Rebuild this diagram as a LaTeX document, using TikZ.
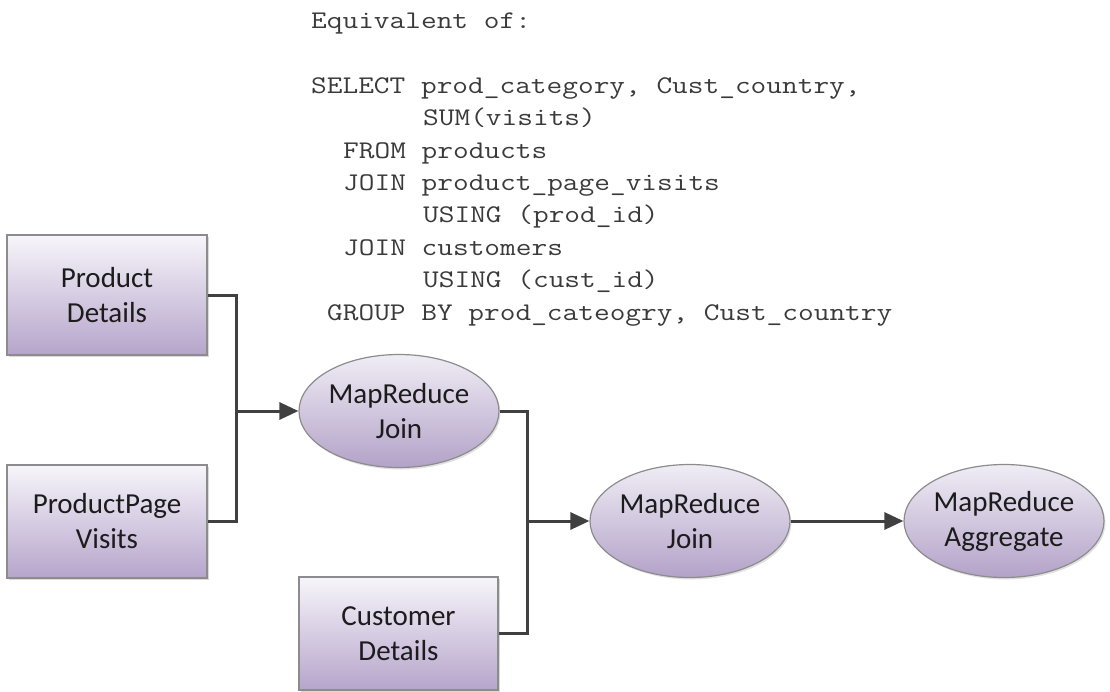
\documentclass[tikz,border=0pt]{standalone}
\usepackage{fontspec}
\setmainfont{Carlito}
\setmonofont{Latin Modern Mono}[FakeStretch=1.2]
\usetikzlibrary{arrows.meta,shapes.geometric,shadows}
\definecolor{boxtop}{HTML}{F7F5FA}
\definecolor{boxbot}{HTML}{B6A5CB}
\definecolor{elltop}{HTML}{F0EDF5}
\definecolor{ellbot}{HTML}{B3A2C8}
\definecolor{edgegray}{HTML}{8C8C8C}
\definecolor{linegray}{HTML}{404040}
\definecolor{sqlgray}{HTML}{3A3A3A}
\definecolor{labelcol}{HTML}{1C1C1C}
\tikzset{
  labelfont/.style={font=\fontsize{29}{35}\selectfont, text=labelcol, align=center},
  datbox/.style={labelfont, rectangle, draw=edgegray, line width=1.2pt,
    top color=boxtop, bottom color=boxbot, inner sep=0pt,
    drop shadow={shadow xshift=1.5pt, shadow yshift=-2pt, opacity=0.25, fill=black!60}},
  procell/.style={labelfont, ellipse, draw=edgegray, line width=1.2pt,
    top color=elltop, bottom color=ellbot, inner sep=0pt,
    minimum width=200pt, minimum height=113pt,
    drop shadow={shadow xshift=1.5pt, shadow yshift=-2pt, opacity=0.2, fill=black!60}},
  conn/.style={draw=linegray, line width=3pt},
  arr/.style={conn, -{Triangle[length=19pt,width=17pt]}},
  sqlline/.style={anchor=base west, inner sep=0pt, text=sqlgray,
    font=\ttfamily\fontsize{25.4}{32.4}\selectfont}
}
\begin{document}
\begin{tikzpicture}[x=1pt,y=-1pt]
\useasboundingbox (0,0) rectangle (1110,691);
% SQL text
\node[sqlline] (s0) at (311,28) {Equivalent of:};
\node[sqlline] (s1) at (311,93) {SELECT prod\_category, Cust\_country,};
\node[sqlline] (s2) at (423,125.5) {SUM(visits)};
\node[sqlline] (s3) at (343,158) {FROM products};
\node[sqlline] (s4) at (343,190) {JOIN product\_page\_visits};
\node[sqlline] (s5) at (423,222.5) {USING (prod\_id)};
\node[sqlline] (s6) at (343,255) {JOIN customers};
\node[sqlline] (s7) at (423,287.5) {USING (cust\_id)};
\node[sqlline] (s8) at (327,320) {GROUP BY prod\_cateogry, Cust\_country};
% data boxes
\node[datbox, minimum width=200pt, minimum height=120pt] (pd) at (107,295) {Product\\Details};
\node[datbox, minimum width=200pt, minimum height=113pt] (ppv) at (107,521.5) {ProductPage\\Visits};
\node[datbox, minimum width=199pt, minimum height=113pt] (cd) at (398.5,633.5) {Customer\\Details};
% processes
\node[procell] (e1) at (399,411) {MapReduce\\Join};
\node[procell] (e2) at (690,521) {MapReduce\\Join};
\node[procell] (e3) at (1004,521) {MapReduce\\Aggregate};
% junctions
\coordinate (j1) at (236,411);
\coordinate (j2) at (527,521);
% connectors
\draw[conn] (pd.east) -| (j1) |- (ppv.east);
\draw[arr] (j1) -- (e1.west);
\draw[conn] (e1.east) -| (j2) |- (cd.east);
\draw[arr] (j2) -- (e2.west);
\draw[arr] (e2.east) -- (e3.west);
\end{tikzpicture}
\end{document}
